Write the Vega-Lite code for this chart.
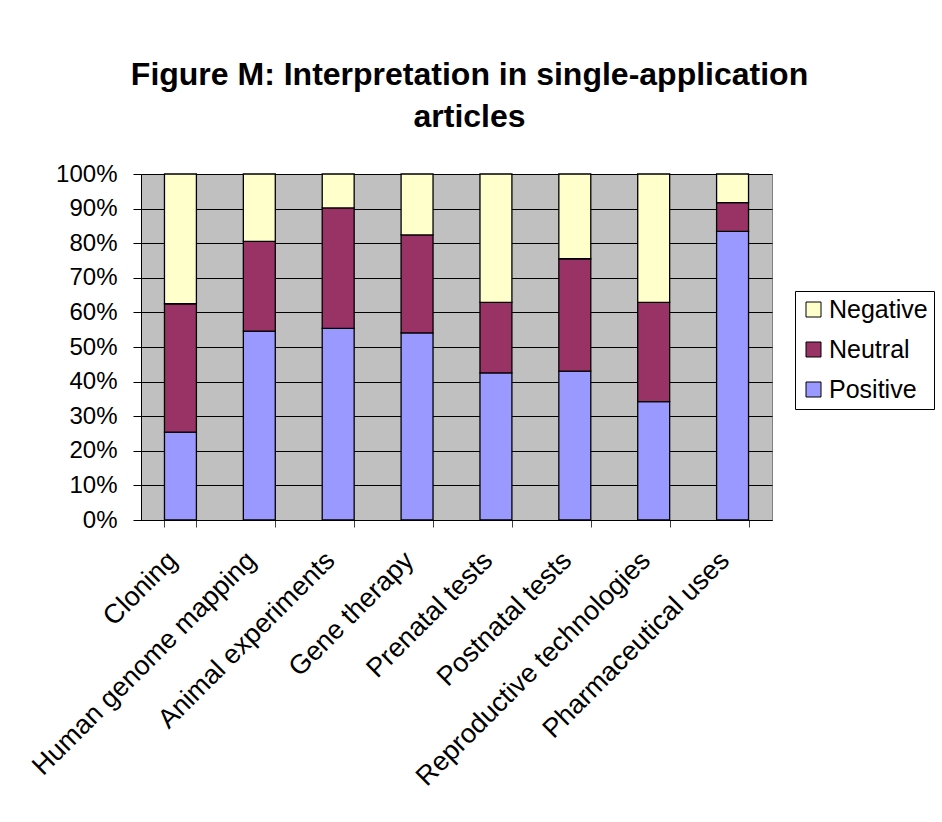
{
  "$schema": "https://vega.github.io/schema/vega-lite/v6.json",
  "autosize": "none",
  "width": 631,
  "height": 346,
  "padding": {"left": 141, "top": 174, "right": 170, "bottom": 302},
  "background": "white",
  "title": {
    "text": ["Figure M: Interpretation in single-application", "articles"],
    "font": "Liberation Sans",
    "fontSize": 32,
    "fontWeight": "bold",
    "color": "black",
    "anchor": "middle",
    "frame": "group",
    "dx": 13,
    "offset": 28,
    "lineHeight": 42
  },
  "data": {
    "values": [
      {"Application": "Cloning", "Interpretation": "Positive", "Share": 25.4},
      {"Application": "Cloning", "Interpretation": "Neutral", "Share": 37.1},
      {"Application": "Cloning", "Interpretation": "Negative", "Share": 37.5},
      {"Application": "Human genome mapping", "Interpretation": "Positive", "Share": 54.6},
      {"Application": "Human genome mapping", "Interpretation": "Neutral", "Share": 25.9},
      {"Application": "Human genome mapping", "Interpretation": "Negative", "Share": 19.5},
      {"Application": "Animal experiments", "Interpretation": "Positive", "Share": 55.4},
      {"Application": "Animal experiments", "Interpretation": "Neutral", "Share": 34.8},
      {"Application": "Animal experiments", "Interpretation": "Negative", "Share": 9.8},
      {"Application": "Gene therapy", "Interpretation": "Positive", "Share": 54.1},
      {"Application": "Gene therapy", "Interpretation": "Neutral", "Share": 28.3},
      {"Application": "Gene therapy", "Interpretation": "Negative", "Share": 17.6},
      {"Application": "Prenatal tests", "Interpretation": "Positive", "Share": 42.5},
      {"Application": "Prenatal tests", "Interpretation": "Neutral", "Share": 20.4},
      {"Application": "Prenatal tests", "Interpretation": "Negative", "Share": 37.1},
      {"Application": "Postnatal tests", "Interpretation": "Positive", "Share": 43.0},
      {"Application": "Postnatal tests", "Interpretation": "Neutral", "Share": 32.5},
      {"Application": "Postnatal tests", "Interpretation": "Negative", "Share": 24.5},
      {"Application": "Reproductive technologies", "Interpretation": "Positive", "Share": 34.2},
      {"Application": "Reproductive technologies", "Interpretation": "Neutral", "Share": 28.7},
      {"Application": "Reproductive technologies", "Interpretation": "Negative", "Share": 37.1},
      {"Application": "Pharmaceutical uses", "Interpretation": "Positive", "Share": 83.4},
      {"Application": "Pharmaceutical uses", "Interpretation": "Neutral", "Share": 8.3},
      {"Application": "Pharmaceutical uses", "Interpretation": "Negative", "Share": 8.3}
    ]
  },
  "mark": {"type": "bar", "stroke": "black", "strokeWidth": 1.3, "opacity": 1},
  "encoding": {
    "x": {
      "field": "Application",
      "type": "nominal",
      "sort": null,
      "scale": {"paddingInner": 0.595, "paddingOuter": 0.2975},
      "axis": {
        "title": null,
        "labelAngle": -45,
        "labelAlign": "right",
        "labelBaseline": "middle",
        "labelFont": "Liberation Sans",
        "labelFontSize": 27,
        "labelColor": "black",
        "labelPadding": 29,
        "labelOffset": -8,
        "ticks": true,
        "tickBand": "extent",
        "tickSize": 7,
        "tickWidth": 1,
        "tickColor": "#404040",
        "domainColor": "black",
        "grid": false,
        "labelLimit": 0
      }
    },
    "y": {
      "field": "Share",
      "type": "quantitative",
      "stack": "normalize",
      "scale": {"domain": [0, 1], "nice": false},
      "axis": {
        "title": null,
        "values": [0, 0.1, 0.2, 0.3, 0.4, 0.5, 0.6, 0.7, 0.8, 0.9, 1],
        "format": ".0%",
        "labelFont": "Liberation Sans",
        "labelFontSize": 24,
        "labelColor": "black",
        "labelPadding": 16,
        "tickSize": 8,
        "tickColor": "black",
        "domainColor": "black",
        "grid": true,
        "gridColor": "black",
        "gridOpacity": 1,
        "gridWidth": 1
      }
    },
    "color": {
      "field": "Interpretation",
      "type": "nominal",
      "scale": {"domain": ["Negative", "Neutral", "Positive"], "range": ["#FFFFCC", "#993366", "#9999FF"]},
      "legend": {
        "title": null,
        "orient": "none",
        "legendX": 654,
        "legendY": 117,
        "strokeColor": "black",
        "fillColor": "white",
        "padding": 6,
        "symbolType": "square",
        "symbolSize": 225,
        "symbolStrokeColor": "black",
        "symbolStrokeWidth": 1,
        "symbolOpacity": 1,
        "labelFont": "Liberation Sans",
        "labelFontSize": 25,
        "labelColor": "black",
        "labelOffset": 3,
        "rowPadding": 14
      }
    },
    "order": {"field": "Interpretation", "sort": "descending"}
  },
  "config": {
    "view": {"fill": "#C0C0C0", "stroke": "#808080", "strokeWidth": 1}
  }
}
